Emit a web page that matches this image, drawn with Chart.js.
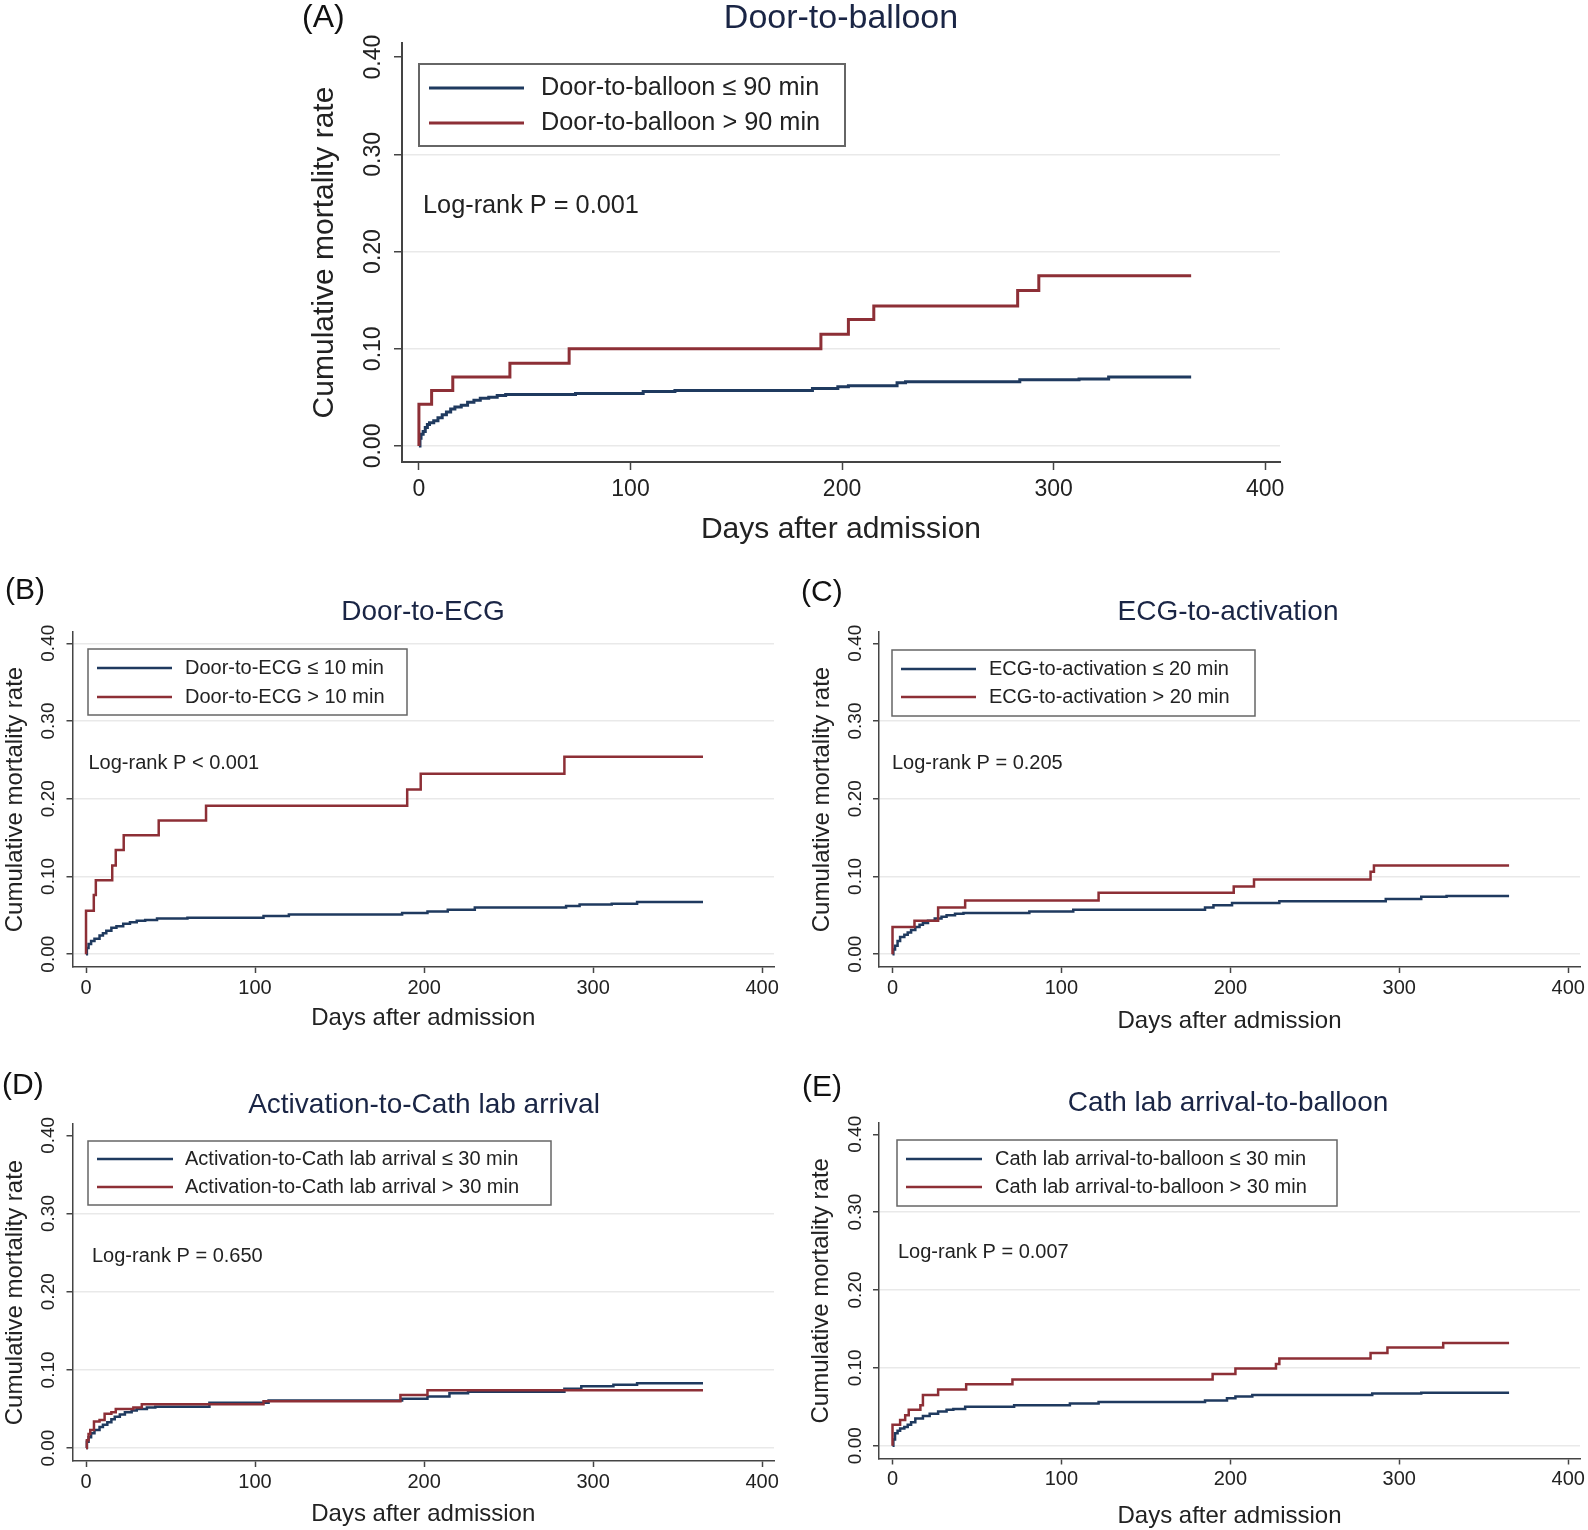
<!DOCTYPE html>
<html>
<head>
<meta charset="utf-8">
<script src="https://cdn.jsdelivr.net/npm/chart.js@4.4.1/dist/chart.umd.min.js"></script>
<style>
    html, body { margin: 0; padding: 0; background: #fff; }
    #page { position: relative; width: 1588px; height: 1530px; overflow: hidden; }
    #page canvas { position: absolute; left: 0; top: 0; }
</style>
</head>
<body>
<div id="page">
    <canvas id="chartA" width="1588" height="1530"></canvas>
    <canvas id="chartB" width="1588" height="1530"></canvas>
    <canvas id="chartC" width="1588" height="1530"></canvas>
    <canvas id="chartD" width="1588" height="1530"></canvas>
    <canvas id="chartE" width="1588" height="1530"></canvas>
</div>
<script>
// Shared axes

const dayTicks = [0, 100, 200, 300, 400];
const rateTicks = [0, 0.1, 0.2, 0.3, 0.4];
const yTitle = 'Cumulative mortality rate';
const xTitle = 'Days after admission';

// (A) Door-to-balloon

const aLegend = ['Door-to-balloon \u2264 90 min', 'Door-to-balloon > 90 min'];
const aLowDays = [0, 0.5, 1, 2, 3, 4, 5, 7, 9, 11, 13, 15, 17, 20, 23, 26, 29, 33, 37, 41, 74, 106, 121, 186, 198, 203, 226, 230, 284, 312, 326, 365];
const aLowRate = [0, 0.008, 0.012, 0.015, 0.019, 0.022, 0.024, 0.026, 0.029, 0.032, 0.035, 0.038, 0.040, 0.042, 0.045, 0.047, 0.049, 0.050, 0.052, 0.053, 0.054, 0.056, 0.057, 0.059, 0.061, 0.062, 0.065, 0.066, 0.068, 0.069, 0.071, 0.071];
const aHighDays = [0, 0, 6, 16, 43, 71, 190, 203, 215, 283, 293, 365];
const aHighRate = [0, 0.043, 0.057, 0.071, 0.085, 0.100, 0.115, 0.130, 0.144, 0.160, 0.175, 0.175];

// (B) Door-to-ECG

const bLegend = ['Door-to-ECG \u2264 10 min', 'Door-to-ECG > 10 min'];
const bLowDays = [0, 0.5, 1.5, 3, 5, 8, 10, 12, 15, 18, 22, 26, 30, 35, 42, 60, 105, 120, 187, 202, 214, 230, 284, 292, 311, 326, 365];
const bLowRate = [0, 0.008, 0.013, 0.017, 0.020, 0.024, 0.027, 0.030, 0.034, 0.036, 0.039, 0.041, 0.043, 0.044, 0.046, 0.047, 0.049, 0.051, 0.053, 0.055, 0.057, 0.060, 0.062, 0.064, 0.065, 0.067, 0.067];
const bHighDays = [0, 0, 4.6, 5.8, 15.5, 17.6, 22.3, 43, 71, 190, 198, 283, 365];
const bHighRate = [0, 0.056, 0.076, 0.095, 0.114, 0.134, 0.153, 0.172, 0.191, 0.212, 0.232, 0.254, 0.254];

// (C) ECG-to-activation

const cLegend = ['ECG-to-activation \u2264 20 min', 'ECG-to-activation > 20 min'];
const cLowDays = [0, 0.5, 1.5, 3, 4.5, 7, 9, 11, 13.5, 16, 18, 21, 25, 29, 32, 37, 42, 81, 107, 185, 190, 201, 229, 292, 313, 328, 365];
const cLowRate = [0, 0.006, 0.011, 0.017, 0.022, 0.025, 0.028, 0.031, 0.035, 0.038, 0.040, 0.043, 0.046, 0.048, 0.050, 0.052, 0.053, 0.055, 0.057, 0.060, 0.063, 0.066, 0.068, 0.071, 0.074, 0.075, 0.075];
const cHighDays = [0, 0, 13, 27, 43, 122, 202, 214, 283, 285, 365];
const cHighRate = [0, 0.035, 0.043, 0.060, 0.069, 0.079, 0.087, 0.096, 0.106, 0.114, 0.114];

// (D) Activation-to-Cath lab arrival

const dLegend = ['Activation-to-Cath lab arrival \u2264 30 min', 'Activation-to-Cath lab arrival > 30 min'];
const dLowDays = [0, 0.5, 1.5, 3, 5, 8, 10, 12.6, 15, 17, 20, 23, 27, 30, 36, 41, 73, 108, 187, 202, 215, 226, 283, 293, 312, 326, 365];
const dLowRate = [0, 0.008, 0.014, 0.019, 0.023, 0.027, 0.030, 0.033, 0.037, 0.040, 0.043, 0.046, 0.048, 0.050, 0.052, 0.053, 0.058, 0.061, 0.063, 0.066, 0.070, 0.072, 0.076, 0.079, 0.081, 0.083, 0.083];
const dHighDays = [0, 0.5, 1.5, 2.5, 4.7, 8, 11, 15, 17.6, 28, 33, 105, 186, 202, 365];
const dHighRate = [0, 0.010, 0.018, 0.023, 0.034, 0.036, 0.044, 0.046, 0.050, 0.052, 0.056, 0.060, 0.068, 0.074, 0.074];

// (E) Cath lab arrival-to-balloon

const eLegend = ['Cath lab arrival-to-balloon \u2264 30 min', 'Cath lab arrival-to-balloon > 30 min'];
const eLowDays = [0, 0.5, 1.5, 3, 4.5, 7, 9, 11, 13.5, 18, 22, 27, 32, 36, 43, 72, 105, 122, 185, 198, 203, 213, 284, 313, 365];
const eLowRate = [0, 0.008, 0.016, 0.019, 0.022, 0.024, 0.027, 0.030, 0.035, 0.038, 0.041, 0.044, 0.046, 0.047, 0.050, 0.052, 0.054, 0.056, 0.058, 0.061, 0.063, 0.065, 0.067, 0.068, 0.068];
const eHighDays = [0, 0, 4.5, 7.5, 9.6, 16.5, 18, 27, 43.6, 71, 189.5, 203, 227, 229, 283, 293, 326, 365];
const eHighRate = [0, 0.027, 0.033, 0.039, 0.046, 0.052, 0.065, 0.072, 0.079, 0.085, 0.092, 0.099, 0.105, 0.112, 0.119, 0.126, 0.132, 0.132];

// Styles

const family = '"Liberation Sans", Arial, Helvetica, sans-serif';
const navy = '#1f3a5f';
const maroon = '#8d2f36';
const ink = '#222';
const titleInk = '#1a2545';

Chart.defaults.font.family = family;
Chart.defaults.color = ink;

/**
 * Panel letter, title, legend box and log-rank note
 */
const panelText = {
    id: 'panelText',
    afterDraw(chart, args, o) {
        const ctx = chart.ctx;
        ctx.save();
        ctx.textBaseline = 'middle';

        ctx.fillStyle = '#111';
        ctx.textAlign = 'left';
        ctx.font = `${o.letterSize}px ${family}`;
        ctx.fillText(o.letter, o.letterX, o.letterY);

        ctx.fillStyle = titleInk;
        ctx.textAlign = 'center';
        ctx.font = `${o.titleSize}px ${family}`;
        ctx.fillText(o.title, o.titleX, o.titleY);

        const b = o.box;
        ctx.strokeStyle = '#666';
        ctx.lineWidth = o.boxLine;
        ctx.strokeRect(b[0], b[1], b[2] - b[0], b[3] - b[1]);

        ctx.font = `${o.textSize}px ${family}`;
        ctx.textAlign = 'left';
        chart.data.datasets.forEach((ds, i) => {
            const y = o.rows[i];
            ctx.strokeStyle = ds.borderColor;
            ctx.lineWidth = ds.borderWidth;
            ctx.beginPath();
            ctx.moveTo(o.swatch[0], y);
            ctx.lineTo(o.swatch[1], y);
            ctx.stroke();
            ctx.fillStyle = ink;
            ctx.fillText(ds.label, o.textX, y);
        });

        ctx.fillStyle = ink;
        ctx.fillText(o.logRank, o.logX, o.logY);
        ctx.restore();
    }
};

const toPoints = (days, rate) => days.map((d, i) => ({ x: d, y: rate[i] }));

/**
 * Build one Kaplan-Meier style panel on a full page canvas
 * @param {String} id Canvas id
 * @param {Object} p Panel layout and series
 */
function makePanel(id, p) {
    const yWidth = p.area[0] - p.yTitleX + p.axisTitleSize * 0.6;
    const xHeight = p.xTitleY - p.area[3] + p.axisTitleSize * 0.6;
    const config = {
        type: 'line',
        data: {
            datasets: [
                {
                    label: p.legend[0],
                    data: toPoints(p.low[0], p.low[1]),
                    borderColor: navy,
                    borderWidth: p.lineWidth,
                    stepped: true,
                    pointRadius: 0,
                    fill: false,
                    order: 1
                },
                {
                    label: p.legend[1],
                    data: toPoints(p.high[0], p.high[1]),
                    borderColor: maroon,
                    borderWidth: p.lineWidth,
                    stepped: true,
                    pointRadius: 0,
                    fill: false,
                    order: 0
                }
            ]
        },
        options: {
            responsive: false,
            animation: false,
            events: [],
            layout: {
                padding: {
                    left: p.area[0] - yWidth,
                    top: p.area[1],
                    right: 1588 - p.area[2],
                    bottom: 1530 - p.area[3] - xHeight
                }
            },
            scales: {
                x: {
                    type: 'linear',
                    min: -8,
                    max: 407,
                    afterBuildTicks: s => { s.ticks = dayTicks.map(v => ({ value: v })); },
                    afterFit: s => { s.height = xHeight; },
                    ticks: {
                        autoSkip: false,
                        maxRotation: 0,
                        padding: p.xTickPad,
                        font: { size: p.tickSize },
                        color: ink
                    },
                    grid: {
                        drawOnChartArea: false,
                        drawTicks: true,
                        tickLength: p.tickLength,
                        tickColor: '#444',
                        tickWidth: 1.5
                    },
                    border: { display: true, color: '#444', width: p.axisWidth },
                    title: {
                        display: true,
                        text: xTitle,
                        padding: 0,
                        font: { size: p.axisTitleSize },
                        color: ink
                    }
                },
                y: {
                    type: 'linear',
                    min: -0.0165,
                    max: 0.4145,
                    afterBuildTicks: s => { s.ticks = rateTicks.map(v => ({ value: v })); },
                    afterFit: s => { s.width = yWidth; },
                    ticks: {
                        autoSkip: false,
                        minRotation: 90,
                        maxRotation: 90,
                        crossAlign: 'center',
                        padding: p.yTickPad,
                        font: { size: p.yTickSize || p.tickSize },
                        color: ink,
                        callback: v => v.toFixed(2)
                    },
                    grid: {
                        color: c => (c.tick && c.tick.value > 0.39 && !p.topGrid) ? 'rgba(0,0,0,0)' : '#e9e9e9',
                        lineWidth: 1.5,
                        drawTicks: true,
                        tickLength: p.tickLength,
                        tickColor: '#444',
                        tickWidth: 1.5
                    },
                    border: { display: true, color: '#444', width: p.axisWidth },
                    title: {
                        display: true,
                        text: yTitle,
                        padding: 0,
                        font: { size: p.axisTitleSize },
                        color: ink
                    }
                }
            },
            plugins: {
                legend: { display: false },
                tooltip: { enabled: false },
                panelText: p.text
            }
        },
        plugins: [panelText]
    };
    return new Chart(document.getElementById(id).getContext('2d'), config);
}

// Small panel defaults
const small = { lineWidth: 2.5, axisWidth: 1.5, tickLength: 6, tickSize: 20, yTickSize: 19, axisTitleSize: 24, xTickPad: 3, yTickPad: -1 };
const smallText = { letterSize: 30, titleSize: 28, textSize: 20, boxLine: 1.5 };

makePanel('chartA', {
    legend: aLegend, low: [aLowDays, aLowRate], high: [aHighDays, aHighRate],
    area: [402, 43, 1280, 462], yTitleX: 325, xTitleY: 530,
    lineWidth: 3, axisWidth: 2, tickLength: 8, tickSize: 23, axisTitleSize: 30, xTickPad: 6, yTickPad: -2,
    text: {
        letter: '(A)', letterSize: 32, letterX: 302, letterY: 18,
        title: 'Door-to-balloon', titleSize: 34, titleX: 841, titleY: 19,
        box: [419, 64, 845, 146], boxLine: 2, rows: [88, 123], swatch: [429, 524], textX: 541, textSize: 25.3,
        logRank: 'Log-rank P = 0.001', logX: 423, logY: 206
    }
});

makePanel('chartB', Object.assign({}, small, {
    legend: bLegend, low: [bLowDays, bLowRate], high: [bHighDays, bHighRate],
    area: [72.5, 632, 774, 967], yTitleX: 15, xTitleY: 1018, topGrid: true,
    text: Object.assign({}, smallText, {
        letter: '(B)', letterX: 5, letterY: 591,
        title: 'Door-to-ECG', titleX: 423, titleY: 612,
        box: [88, 649, 407, 715], rows: [668, 697], swatch: [97, 172], textX: 185,
        logRank: 'Log-rank P < 0.001', logX: 88.5, logY: 763
    })
}));

makePanel('chartC', Object.assign({}, small, {
    legend: cLegend, low: [cLowDays, cLowRate], high: [cHighDays, cHighRate],
    area: [879, 632, 1581, 967], yTitleX: 822, xTitleY: 1021,
    text: Object.assign({}, smallText, {
        letter: '(C)', letterX: 801, letterY: 593,
        title: 'ECG-to-activation', titleX: 1228, titleY: 612,
        box: [892, 650, 1255, 716], rows: [669, 697], swatch: [901, 976], textX: 989,
        logRank: 'Log-rank P = 0.205', logX: 892, logY: 763
    })
}));

makePanel('chartD', Object.assign({}, small, {
    legend: dLegend, low: [dLowDays, dLowRate], high: [dHighDays, dHighRate],
    area: [72.5, 1124, 774, 1461], yTitleX: 15, xTitleY: 1514,
    text: Object.assign({}, smallText, {
        letter: '(D)', letterX: 2, letterY: 1086,
        title: 'Activation-to-Cath lab arrival', titleX: 424, titleY: 1105,
        box: [88, 1141, 551, 1205], rows: [1159, 1187], swatch: [97, 173], textX: 185,
        logRank: 'Log-rank P = 0.650', logX: 92, logY: 1256
    })
}));

makePanel('chartE', Object.assign({}, small, {
    legend: eLegend, low: [eLowDays, eLowRate], high: [eHighDays, eHighRate],
    area: [879, 1123, 1581, 1458.5], yTitleX: 821, xTitleY: 1516,
    text: Object.assign({}, smallText, {
        letter: '(E)', letterX: 802, letterY: 1088,
        title: 'Cath lab arrival-to-balloon', titleX: 1228, titleY: 1103,
        box: [897, 1140, 1337, 1206], rows: [1159, 1187], swatch: [906, 982], textX: 995,
        logRank: 'Log-rank P = 0.007', logX: 898, logY: 1252
    })
}));
</script>
</body>
</html>
